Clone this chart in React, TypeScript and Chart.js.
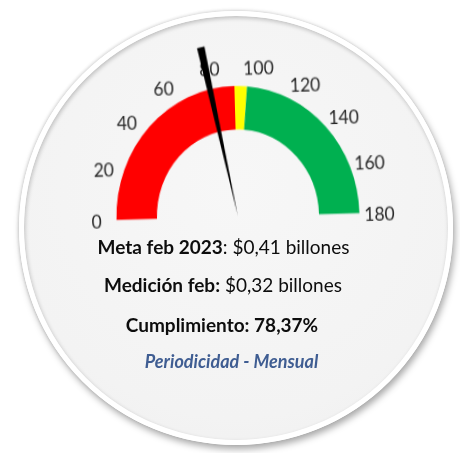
import React, { useEffect, useRef } from "react";
import { Chart, registerables } from "chart.js";

Chart.register(...registerables);

const segmentLabels = ["Bajo", "Alerta", "Cumple"];
const segmentValues = [90, 6, 84];
const segmentColors = ["#ff0000", "#ffff00", "#00b050"];
const tickLabels = [0, 20, 40, 60, 80, 100, 120, 140, 160, 180];
const gaugeMax = 180;
const needleValue = 78.37;

const W = 460;
const H = 453;
const CX = 238;
const CY = 216.5;
const R = 121.5;

const gaugePlugin = {
  id: "gaugeExtras",
  afterDatasetsDraw(chart: any) {
    const meta = chart.getDatasetMeta(0);
    const arc = meta.data[0];
    if (!arc) return;
    const cx = arc.x;
    const cy = arc.y;
    const outer = arc.outerRadius;
    const ctx = chart.ctx;
    ctx.save();
    // tick labels
    ctx.font = "17.5px Lato";
    ctx.fillStyle = "#262626";
    ctx.textAlign = "center";
    ctx.textBaseline = "middle";
    const lr = outer + 20;
    tickLabels.forEach((t) => {
      const a = Math.PI + (t / gaugeMax) * Math.PI;
      const x = cx + lr * Math.cos(a);
      const y = cy + lr * Math.sin(a) + 2;
      ctx.fillText(String(t), x, y);
    });
    // needle
    const a = Math.PI + (needleValue / gaugeMax) * Math.PI;
    const L = outer + 40;
    const hw = 3.8;
    const ex = cx + L * Math.cos(a);
    const ey = cy + L * Math.sin(a);
    const px = -Math.sin(a);
    const py = Math.cos(a);
    ctx.beginPath();
    ctx.moveTo(cx + 0.6 * Math.cos(a), cy + 0.6 * Math.sin(a));
    ctx.lineTo(ex + px * hw, ey + py * hw);
    ctx.lineTo(ex - px * hw, ey - py * hw);
    ctx.closePath();
    ctx.fillStyle = "#000000";
    ctx.fill();
    ctx.restore();
  },
};

function Gauge() {
  const ref = useRef<HTMLCanvasElement | null>(null);
  useEffect(() => {
    if (!ref.current) return;
    const chart = new Chart(ref.current, {
      type: "doughnut",
      data: {
        labels: segmentLabels,
        datasets: [
          {
            data: segmentValues,
            backgroundColor: segmentColors,
            borderWidth: 0,
          },
        ],
      },
      options: {
        responsive: false,
        animation: false,
        rotation: -90,
        circumference: 180,
        cutout: "66.7%",
        layout: {
          padding: {
            left: CX - R,
            right: W - (CX + R),
            top: CY - R,
            bottom: H - CY,
          },
        },
        plugins: {
          legend: { display: false },
          tooltip: { enabled: false },
        },
      },
      plugins: [gaugePlugin],
    });
    return () => chart.destroy();
  }, []);
  return (
    <canvas
      ref={ref}
      width={W}
      height={H}
      style={{
        position: "absolute",
        left: 0,
        top: 0,
        width: W,
        height: H,
        transformOrigin: `${CX}px ${CY}px`,
        transform: "rotate(-1.6deg) scaleY(1.075)",
      }}
    />
  );
}

const lineStyle = (cx: number, cy: number): React.CSSProperties => ({
  position: "absolute",
  left: cx - 200,
  width: 400,
  top: cy - 12,
  height: 24,
  lineHeight: "24px",
  textAlign: "center",
  whiteSpace: "nowrap",
  color: "#0d0d0d",
  fontFamily: "Lato, sans-serif",
  fontSize: 19,
});

export default function App() {
  return (
    <div
      style={{
        position: "absolute",
        left: 0,
        top: 0,
        width: W,
        height: H,
        background: "#ffffff",
        overflow: "hidden",
      }}
    >
      <div
        style={{
          position: "absolute",
          left: 19,
          top: 11,
          width: 434,
          height: 434,
          boxSizing: "border-box",
          borderRadius: "50%",
          border: "5px solid #ffffff",
          background: "radial-gradient(circle at 50% 40%, #f7f7f7 0%, #f3f3f3 70%, #eeeeee 100%)",
          boxShadow:
            "2px 4px 7px rgba(0,0,0,0.35), -1px -1px 3px rgba(0,0,0,0.12), inset 1px 2px 4px rgba(0,0,0,0.22)",
        }}
      />
      <Gauge />
      <div style={lineStyle(223.5, 247)}>
        <b>Meta feb 2023</b>: $0,41 billones
      </div>
      <div style={lineStyle(223, 285)}>
        <b>Medición feb:</b> $0,32 billones
      </div>
      <div style={lineStyle(222, 325)}>
        <b>Cumplimiento: 78,37%</b>
      </div>
      <div
        style={{
          ...lineStyle(231.5, 361),
          fontSize: 18,
          fontStyle: "italic",
          fontWeight: "bold",
          color: "#3f5d92",
        }}
      >
        Periodicidad - Mensual
      </div>
    </div>
  );
}
